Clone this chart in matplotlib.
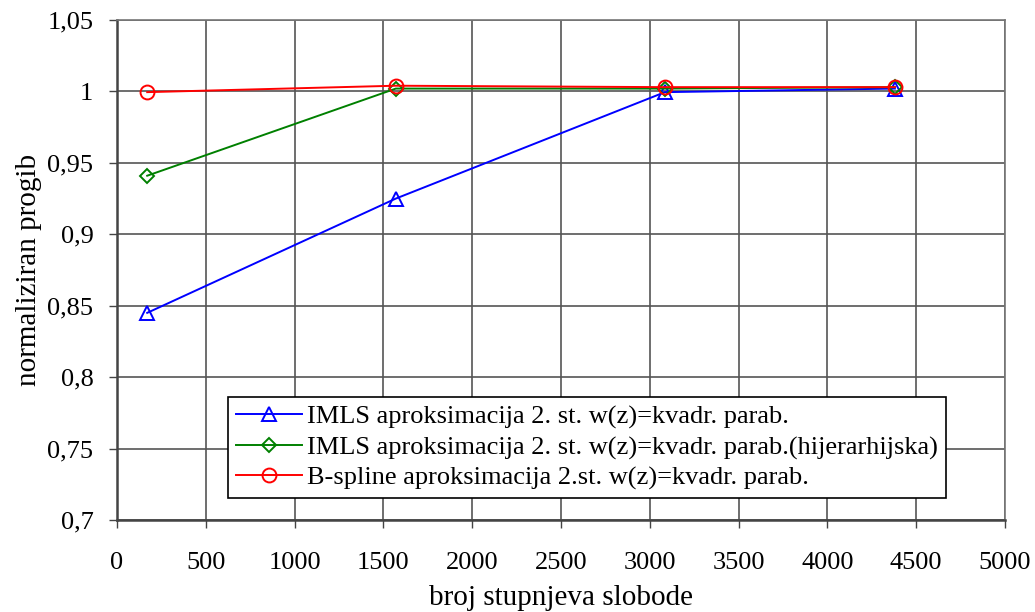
import matplotlib
matplotlib.use("Agg")
import matplotlib.pyplot as plt
import numpy as np

# data
broj_dof = [170, 1570, 3085, 4380]
imls = [0.845, 0.925, 0.9995, 1.002]
imls_hij = [0.941, 1.002, 1.002, 1.003]
bspline = [0.9995, 1.004, 1.003, 1.003]

labels = ["IMLS aproksimacija 2. st. w(z)=kvadr. parab.",
          "IMLS aproksimacija 2. st. w(z)=kvadr. parab.(hijerarhijska)",
          "B-spline aproksimacija 2.st. w(z)=kvadr. parab."]

xticks = np.arange(0, 5001, 500)
yticks = [0.7, 0.75, 0.8, 0.85, 0.9, 0.95, 1.0, 1.05]
yticklabels = ["0,7", "0,75", "0,8", "0,85", "0,9", "0,95", "1", "1,05"]

plt.rcParams["font.family"] = ["Liberation Serif", "DejaVu Serif"]

fig = plt.figure(figsize=(10.35, 6.12), dpi=100)
ax = fig.add_axes([117 / 1035, 92 / 612, 888 / 1035, 500 / 612])

ax.plot(broj_dof, imls, color="blue", lw=1.4, marker="^", ms=10,
        mfc="none", mec="blue", mew=1.4, label=labels[0])
ax.plot(broj_dof, imls_hij, color="green", lw=1.4, marker="D", ms=7,
        mfc="none", mec="green", mew=1.4, label=labels[1])
ax.plot(broj_dof, bspline, color="red", lw=1.4, marker="o", ms=10,
        mfc="none", mec="red", mew=1.4, label=labels[2])

ax.set_xlim(0, 5000)
ax.set_ylim(0.7, 1.05)
ax.set_xticks(xticks)
ax.set_yticks(yticks)
ax.set_yticklabels(yticklabels)
ax.tick_params(direction="out", length=6, width=1, color="#444444",
               labelsize=19)
ax.tick_params(axis="x", pad=17)
ax.tick_params(axis="y", pad=11)
ax.grid(True, color="#555555", lw=1.2)
ax.set_axisbelow(True)
for s in ax.spines.values():
    s.set_color("#777777")
    s.set_linewidth(1.2)
ax.spines["left"].set_color("#444444")
ax.spines["bottom"].set_color("#444444")
ax.spines["left"].set_linewidth(1.8)
ax.spines["bottom"].set_linewidth(1.8)

ax.set_xlabel("broj stupnjeva slobode", fontsize=21, labelpad=8)
ax.set_ylabel("normaliziran progib", fontsize=21, labelpad=4)

leg = ax.legend(loc="lower left", bbox_to_anchor=(0.125, 0.044), fontsize=19,
                frameon=True, fancybox=False, framealpha=1, edgecolor="black",
                handlelength=2.5, borderpad=0.3, labelspacing=0.25,
                handletextpad=0.2, borderaxespad=0)
leg.get_frame().set_linewidth(1.2)

fig.savefig("out.png", dpi=100, facecolor="white")
